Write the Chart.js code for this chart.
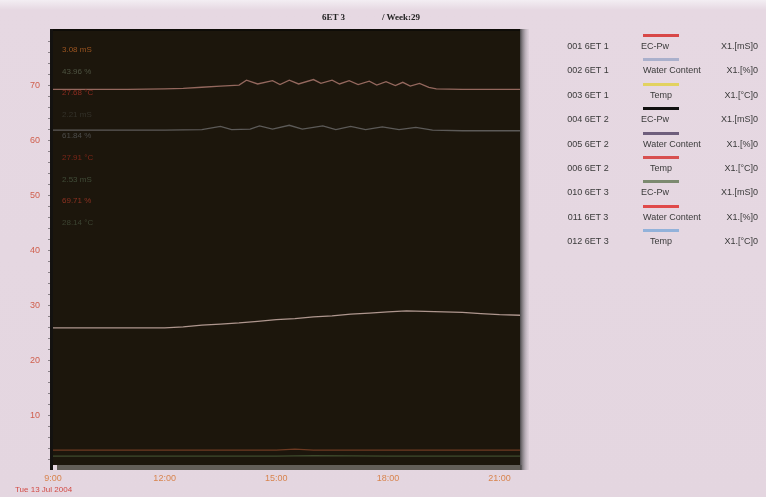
<!DOCTYPE html>
<html>
<head>
<meta charset="utf-8">
<script src="https://cdn.jsdelivr.net/npm/chart.js@4.4.1/dist/chart.umd.min.js"></script>
<style>
  html, body { margin:0; padding:0; }
  body { width:766px; height:497px; position:relative; overflow:hidden;
         background: linear-gradient(180deg, #f3eef3 0px, #e6d8e2 10px, #e4d6e0 100%);
         font-family: "Liberation Sans", Arial, sans-serif; }
  #wrap { position:absolute; left:0; top:0; width:766px; height:497px; }
  .t { position:absolute; white-space:nowrap; }
  .title { font-family:"Liberation Serif", "DejaVu Serif", serif; font-weight:bold; font-size:9px; color:#222; top:12px; }
  .rd { font-size:8px; left:62px; }
  .lg { font-size:9px; color:#3a3a3a; }
  .sw { position:absolute; height:3px; width:36px; left:643px; }
</style>
</head>
<body>
<div id="wrap"><canvas id="c" width="766" height="497"></canvas></div>
<script>
// ---------- data ----------
const xTickHours = [9, 12, 15, 18, 21];
const yTickValues = [10, 20, 30, 40, 50, 60, 70];

const wc011Times  = [9, 10, 11, 12, 12.5, 13, 13.5, 14, 14.2, 14.5, 14.9, 15.1, 15.35, 15.6, 16.0, 16.2, 16.5, 16.7, 16.96, 17.2, 17.5, 17.7, 17.95, 18.2, 18.4, 18.6, 18.85, 19.1, 19.3, 20, 21, 21.55];
const wc011Values = [69.2, 69.2, 69.2, 69.3, 69.4, 69.6, 69.8, 70.0, 70.9, 70.2, 70.8, 70.1, 70.9, 70.2, 71.0, 70.3, 70.9, 70.2, 70.8, 70.1, 70.7, 70.0, 70.6, 69.9, 70.5, 69.8, 70.3, 69.6, 69.3, 69.2, 69.2, 69.2];

const wc005Times  = [9, 10, 11, 12, 13, 13.5, 13.8, 14.3, 14.55, 14.9, 15.35, 15.7, 16.25, 16.6, 17.0, 17.4, 17.85, 18.3, 18.75, 19.2, 20, 21, 21.55];
const wc005Values = [61.8, 61.8, 61.8, 61.8, 61.9, 62.5, 61.9, 62.0, 62.6, 62.0, 62.7, 62.0, 62.6, 61.9, 62.5, 61.9, 62.4, 61.9, 62.3, 61.8, 61.7, 61.7, 61.7];

const tempTimes  = [9, 10, 11, 12, 12.5, 13, 13.5, 14, 14.5, 15, 15.5, 16, 16.5, 17, 17.5, 18, 18.5, 19, 19.5, 20, 20.5, 21, 21.55];
const tempValues = [25.9, 25.9, 25.9, 25.9, 26.1, 26.4, 26.6, 26.8, 27.1, 27.4, 27.6, 27.9, 28.1, 28.4, 28.6, 28.8, 29.0, 28.9, 28.8, 28.7, 28.5, 28.3, 28.2];

const ec001Times  = [9, 12, 15, 15.5, 16, 18, 21.55];
const ec001Values = [3.7, 3.7, 3.7, 3.9, 3.7, 3.7, 3.7];

const ec010Times  = [9, 12, 15, 16, 18, 21.55];
const ec010Values = [2.6, 2.6, 2.6, 2.7, 2.6, 2.6];

const legendIds    = ["001 6ET 1","002 6ET 1","003 6ET 1","004 6ET 2","005 6ET 2","006 6ET 2","010 6ET 3","011 6ET 3","012 6ET 3"];
const legendNames  = ["EC-Pw","Water Content","Temp","EC-Pw","Water Content","Temp","EC-Pw","Water Content","Temp"];
const legendUnits  = ["X1.[mS]0","X1.[%]0","X1.[°C]0","X1.[mS]0","X1.[%]0","X1.[°C]0","X1.[mS]0","X1.[%]0","X1.[°C]0"];
const legendColors = ["#d84848","#aab0cc","#e2d260","#111111","#6e5e7c","#d85050","#7c8a70","#e04a4a","#92b2da"];

const readoutTexts  = ["3.08 mS","43.96 %","27.68 °C","2.21 mS","61.84 %","27.91 °C","2.53 mS","69.71 %","28.14 °C"];
const readoutColors = ["#9a5420","#4e5442","#8c2c20","#34322a","#4c4c4a","#7c2618","#404c38","#8e3222","#3c4432"];

// ---------- page text ----------
function addText(cls, txt, css) {
  const d = document.createElement('div');
  d.className = 't ' + cls;
  d.textContent = txt;
  Object.assign(d.style, css);
  document.body.appendChild(d);
  return d;
}
addText('title', '6ET 3', {left:'322px'});
addText('title', '/ Week:29', {left:'382px'});
addText('', 'Tue 13 Jul 2004', {left:'15px', top:'485px', fontSize:'8px', color:'#d24a44'});

const rowTop = 41, rowStep = 24.4;
legendIds.forEach((id, i) => {
  const y = rowTop + i * rowStep;
  addText('lg', id, {left:'588px', top:y+'px', transform:'translateX(-50%)'});
  const nameLeft = legendNames[i] === 'Water Content' ? 643 : (legendNames[i] === 'Temp' ? 650 : 641);
  addText('lg', legendNames[i], {left:nameLeft+'px', top:y+'px'});
  addText('lg', legendUnits[i], {right:'8px', top:y+'px'});
  const sw = document.createElement('div');
  sw.className = 'sw';
  sw.style.top = (y - 7) + 'px';
  sw.style.background = legendColors[i];
  document.body.appendChild(sw);
});

readoutTexts.forEach((txt, i) => {
  addText('rd', txt, {top:(45 + i * 21.6) + 'px', color: readoutColors[i]});
});

// ---------- chart ----------
const pts = (t, v) => t.map((x, i) => ({x, y: v[i]}));

const plotDecor = {
  id: 'plotDecor',
  beforeDatasetsDraw(chart) {
    const {ctx, chartArea: a} = chart;
    ctx.save();
    ctx.fillStyle = '#1c160c';
    ctx.fillRect(a.left, a.top, a.right - a.left, a.bottom - a.top);
    ctx.restore();
  },
  afterDraw(chart) {
    const {ctx, chartArea: a, scales} = chart;
    ctx.save();
    ctx.fillStyle = '#141210';
    ctx.fillRect(a.left - 3, a.top - 1, 3, a.bottom - a.top + 6);
    ctx.fillStyle = '#0e0c08';
    ctx.fillRect(a.left, a.top - 1, a.right - a.left, 2);
    ctx.fillStyle = '#625e58';
    ctx.fillRect(a.left + 4, a.bottom, a.right - a.left - 2, 5);
    const g = ctx.createLinearGradient(a.right, 0, a.right + 9, 0);
    g.addColorStop(0, '#4c4a4c');
    g.addColorStop(1, 'rgba(190,180,190,0.2)');
    ctx.fillStyle = g;
    ctx.fillRect(a.right, a.top - 1, 9, a.bottom - a.top + 6);
    ctx.strokeStyle = 'rgba(60,56,60,0.55)';
    ctx.lineWidth = 1;
    const y = scales.y;
    for (let v = 2; v <= 78; v += 2) {
      const py = Math.round(y.getPixelForValue(v)) + 0.5;
      ctx.beginPath();
      ctx.moveTo(a.left - 5, py);
      ctx.lineTo(a.left - 3, py);
      ctx.stroke();
    }
    ctx.restore();
  }
};

const lineStyle = {borderWidth: 1.3, pointRadius: 0, tension: 0, fill: false};

new Chart(document.getElementById('c'), {
  type: 'line',
  data: {
    datasets: [
      {label: '011 6ET 3 Water Content', data: pts(wc011Times, wc011Values), borderColor: '#94685e', ...lineStyle},
      {label: '005 6ET 2 Water Content', data: pts(wc005Times, wc005Values), borderColor: '#5c5a58', ...lineStyle},
      {label: '012 6ET 3 Temp',          data: pts(tempTimes, tempValues),   borderColor: '#ae968e', ...lineStyle},
      {label: '001 6ET 1 EC-Pw',         data: pts(ec001Times, ec001Values), borderColor: '#6e3a22', ...lineStyle},
      {label: '010 6ET 3 EC-Pw',         data: pts(ec010Times, ec010Values), borderColor: '#3e4a2c', ...lineStyle}
    ]
  },
  options: {
    responsive: false,
    animation: false,
    devicePixelRatio: 1,
    layout: {padding: {left: 0, top: 30, right: 246, bottom: 0}},
    plugins: {legend: {display: false}, tooltip: {enabled: false}},
    scales: {
      x: {
        type: 'linear', min: 9, max: 21.55,
        afterBuildTicks: s => { s.ticks = xTickHours.map(v => ({value: v})); },
        afterFit: s => { s.height = 32; },
        grid: {color: 'rgba(255,255,255,0.035)', drawTicks: false},
        border: {display: false},
        ticks: {autoSkip: false, maxRotation: 0, padding: 8, color: '#d8844e',
                font: {family: 'Liberation Sans', size: 9},
                callback: v => v + ':00'}
      },
      y: {
        type: 'linear', min: 1, max: 80,
        afterBuildTicks: s => { s.ticks = yTickValues.map(v => ({value: v})); },
        afterFit: s => { s.width = 53; },
        grid: {display: false, drawTicks: false},
        border: {display: false},
        ticks: {padding: 13, color: '#d0604e', font: {family: 'Liberation Sans', size: 9}}
      }
    }
  },
  plugins: [plotDecor]
});
</script>
</body>
</html>
